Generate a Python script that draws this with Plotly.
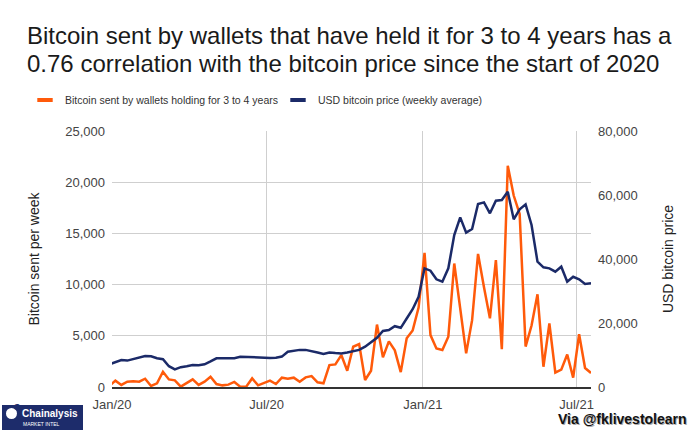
import plotly.graph_objects as go
import pandas as pd

# ---- data (weekly, Sundays) ----
start_date = "2019-12-29"
n_weeks = 82
dates = pd.date_range(start_date, periods=n_weeks, freq="7D")

btc_sent_3to4y = [
    100, 620, 200, 520, 550, 520, 810, 100, 360, 1490,
    740, 650, 30, 360, 740, 200, 520, 1000, 290, 160,
    230, 490, 30, 30, 840, 160, 360, 620, 290, 910,
    810, 910, 520, 940, 1070, 455, 360, 2145, 2210, 3120,
    1590, 3930, 4190, 680, 1590, 6100, 2900, 4450, 3580, 1450,
    4750, 5520, 7750, 13100, 5070, 3770, 3610, 4905, 12060, 7830,
    3285, 6530, 13000, 9750, 6700, 12400, 3700, 21600, 18700, 16900,
    3950, 6000, 9050, 1980, 6200, 1400, 1700, 3170, 910, 5150,
    1850, 1370,
]

usd_price_weekly = [
    7100, 7700, 8400, 8250, 8800, 9200, 9700, 9600, 9000, 8700,
    6500, 5500, 6200, 6500, 6850, 6800, 7100, 8000, 8950, 8950,
    8950, 9000, 9450, 9350, 9250, 9150, 9050, 9100, 9150, 9500,
    11000, 11400, 11600, 11600, 11300, 10800, 10300, 10800, 10600, 10500,
    10800, 11300, 11600, 12600, 14000, 15400, 17500, 17800, 19000, 18500,
    21400, 24300, 28200, 37080, 36350, 33650, 32920, 37080, 47500, 53020,
    48230, 49375, 57190, 57700, 54270, 58230, 58440, 61040, 52400, 55520,
    57080, 50625, 39170, 37400, 37080, 36040, 37600, 32900, 34460, 33650,
    32190, 32400,
]

x_tick_vals = ["2020-01-01", "2020-07-01", "2021-01-01", "2021-07-01"]
x_tick_text = ["Jan/20", "Jul/20", "Jan/21", "Jul/21"]
left_ticks = [0, 5000, 10000, 15000, 20000, 25000]
right_ticks = [0, 20000, 40000, 60000, 80000]

series_names = ["Bitcoin sent by wallets holding for 3 to 4 years",
                "USD bitcoin price (weekly average)"]
title_lines = ["Bitcoin sent by wallets that have held it for 3 to 4 years has a",
               "0.76 correlation with the bitcoin price since the start of 2020"]
ORANGE = "#ff5a0a"
NAVY = "#1b2a68"
FONT = "Liberation Sans, Arial, sans-serif"

W, H = 700, 432
L, R, T, B = 112, 109, 131, 45
pw, ph = W - L - R, H - T - B


def px_x(p):
    return (p - L) / pw


def px_y(p):
    return (H - B - p) / ph


fig = go.Figure()
fig.add_trace(go.Scatter(x=dates, y=btc_sent_3to4y, mode="lines",
                         line=dict(color=ORANGE, width=2.5),
                         name=series_names[0], showlegend=False, yaxis="y"))
fig.add_trace(go.Scatter(x=dates, y=usd_price_weekly, mode="lines",
                         line=dict(color=NAVY, width=2.5),
                         name=series_names[1], showlegend=False, yaxis="y2"))
# legend entries (short bar symbols), one legend box each
for nm, col, lg in zip(series_names, [ORANGE, NAVY], ["legend", "legend2"]):
    fig.add_trace(go.Scatter(x=[None], y=[None], mode="markers", name=nm,
                             legend=lg,
                             marker=dict(symbol="line-ew", size=11,
                                         line=dict(color=col, width=4))))

legend_style = dict(orientation="h", xanchor="left", yanchor="middle",
                    y=px_y(100), font=dict(size=10.5, color="#333", family=FONT),
                    bgcolor="rgba(0,0,0,0)", borderwidth=0)

fig.update_layout(
    width=W, height=H,
    margin=dict(l=L, r=R, t=T, b=B, autoexpand=False),
    paper_bgcolor="white", plot_bgcolor="white",
    font=dict(family=FONT, size=13, color="#444"),
    legend=dict(x=px_x(25), **legend_style),
    legend2=dict(x=px_x(278), **legend_style),
    xaxis=dict(type="date", range=["2020-01-01", "2021-07-18"],
               tickvals=x_tick_vals, ticktext=x_tick_text,
               showgrid=True, gridcolor="#cfcfcf", gridwidth=1,
               showline=True, linecolor="#333", linewidth=2,
               ticks="", ticklabelstandoff=4,
               tickfont=dict(size=13, color="#444"),
               zeroline=False),
    yaxis=dict(range=[0, 25000], tickvals=left_ticks, tickformat=",",
               showgrid=True, gridcolor="#cfcfcf", gridwidth=1,
               zeroline=False, ticks="", ticklabelstandoff=6,
               tickfont=dict(size=13, color="#444"),
               title=dict(text="Bitcoin sent per week", standoff=22,
                          font=dict(size=14, color="#222"))),
    yaxis2=dict(range=[0, 80000], tickvals=right_ticks, tickformat=",",
                overlaying="y", side="right", showgrid=False, zeroline=False,
                ticks="", ticklabelstandoff=6,
                tickfont=dict(size=13, color="#444"),
                title=dict(text="USD bitcoin price", standoff=26,
                           font=dict(size=14, color="#222"))),
)

# Title: two lines placed separately for tight line spacing
for txt, yc in zip(title_lines, [35.5, 63]):
    fig.add_annotation(text=txt, xref="paper", yref="paper",
                       x=px_x(25), y=px_y(yc), xanchor="left", yanchor="middle",
                       showarrow=False,
                       font=dict(size=24, color="#1a1a1a", family=FONT))

# Chainalysis badge (bottom-left)
fig.add_shape(type="rect", xref="paper", yref="paper",
              x0=px_x(2), x1=px_x(83), y0=px_y(430), y1=px_y(405),
              fillcolor="#1d2c6b", line=dict(width=0), layer="above")
fig.add_shape(type="circle", xref="paper", yref="paper",
              x0=px_x(6), x1=px_x(17), y0=px_y(419), y1=px_y(408),
              fillcolor="white", line=dict(width=0), layer="above")
fig.add_annotation(text="<b>S</b>", xref="paper", yref="paper",
                   x=px_x(11.5), y=px_y(413.5), showarrow=False,
                   font=dict(size=9, color="#1d2c6b", family=FONT))
fig.add_annotation(text="<b>Chainalysis</b>", xref="paper", yref="paper",
                   x=px_x(20), y=px_y(413), xanchor="left", yanchor="middle",
                   showarrow=False,
                   font=dict(size=10, color="white", family=FONT))
fig.add_annotation(text="MARKET INTEL", xref="paper", yref="paper",
                   x=px_x(21), y=px_y(424), xanchor="left", yanchor="middle",
                   showarrow=False,
                   font=dict(size=5, color="white", family=FONT))

# Credit (bottom-right), with soft shadow
fig.add_annotation(text="<b>Via @fklivestolearn</b>", xref="paper", yref="paper",
                   x=px_x(690), y=px_y(420), xanchor="right", yanchor="middle",
                   showarrow=False,
                   font=dict(size=14, color="#aaaaaa", family=FONT))
fig.add_annotation(text="<b>Via @fklivestolearn</b>", xref="paper", yref="paper",
                   x=px_x(688.5), y=px_y(418.5), xanchor="right", yanchor="middle",
                   showarrow=False,
                   font=dict(size=14, color="#111", family=FONT))

fig.write_html("out.html")
